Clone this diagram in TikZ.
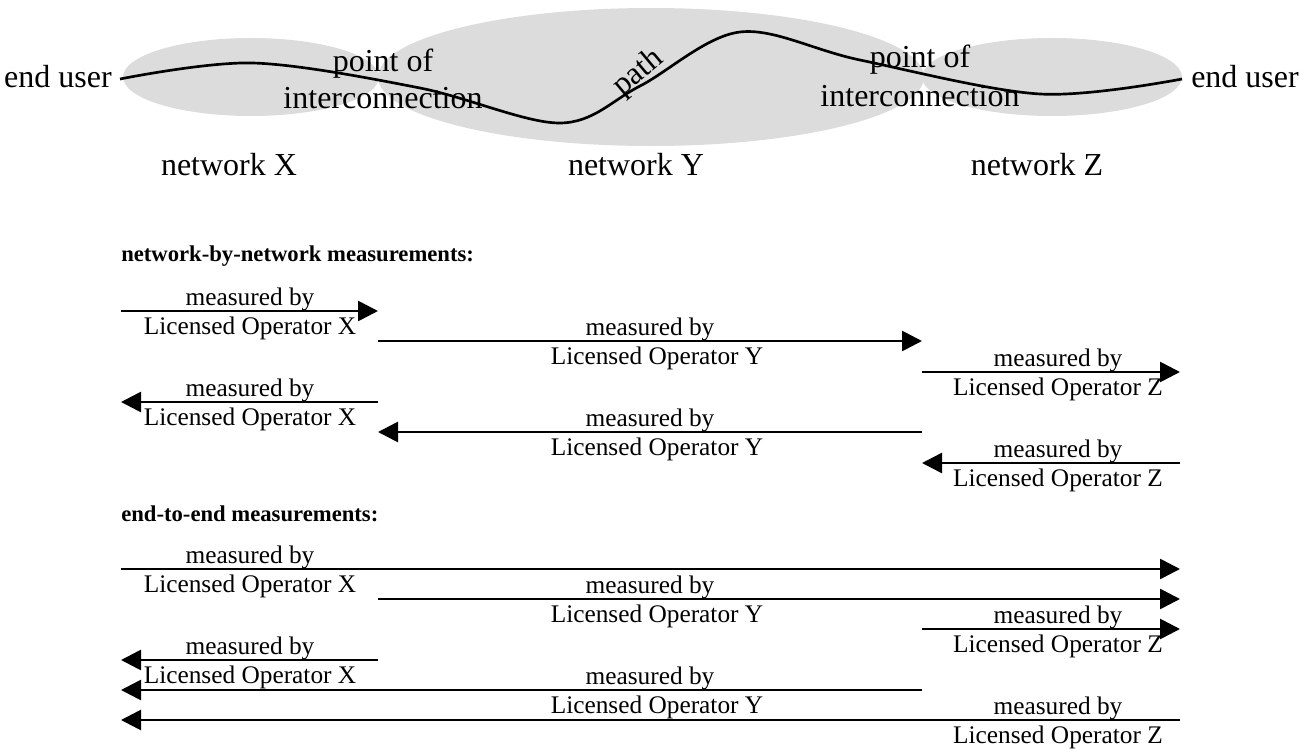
\documentclass[tikz,border=0pt]{standalone}
\usepackage{fontspec}
\setmainfont{Liberation Serif}
\usetikzlibrary{arrows.meta}
\definecolor{netgray}{RGB}{220,220,220}
\begin{document}
\begin{tikzpicture}[x=0.75pt,y=-0.75pt,
  net/.style={fill=netgray, draw=none},
  big/.style={font=\fontsize{24}{28}\selectfont, inner sep=0pt},
  lbl/.style={font=\fontsize{19}{22}\selectfont, inner sep=0pt},
  head/.style={font=\fontsize{17}{20}\selectfont\bfseries, inner sep=0pt, anchor=west},
  meas/.style={line width=2pt, -{Triangle[length=15pt,width=15pt]}},
]
\useasboundingbox (0,0) rectangle (1303,749);
% networks
\fill[net] (251,77) ellipse [x radius=128, y radius=39];
\fill[net] (651,77) ellipse [x radius=273, y radius=69];
\fill[net] (1052,77) ellipse [x radius=130, y radius=39];
% path
\draw[line width=2pt] plot[smooth, tension=0.55] coordinates {(120,79) (253,63) (420,88) (560,123) (640,86) (740,32) (860,60) (1040,94) (1182,79)};
\node[big, anchor=east] (eu1) at (112,77) {end user};
\node[big, anchor=west] (eu2) at (1191,77) {end user};
\node[big] (poi1a) at (383,64) {point of};
\node[big] (poi1b) at (383,98) {interconnection};
\node[big] (poi2a) at (920,60) {point of};
\node[big] (poi2b) at (920,96) {interconnection};
\node[big, rotate=40, anchor=base west] (pathlbl) at (622,97) {path};
\node[big] (nx) at (229,165) {network X};
\node[big] (ny) at (636,165) {network Y};
\node[big] (nz) at (1037,165) {network Z};
% headings
\node[head] (h1) at (121,256) {network-by-network measurements:};
\node[head] (h2) at (121,514) {end-to-end measurements:};
% measurement arrows
\foreach \nm/\xa/\xb/\y in {n1/121/378/311, n2/378/922/341, n3/922/1180/372, n4/378/121/402, n5/922/378/432, n6/1180/922/463,
  e1/121/1180/569, e2/378/1180/599, e3/922/1180/629, e4/378/121/660, e5/922/121/690, e6/1180/121/720}{
  \coordinate (\nm s) at (\xa,\y);
  \coordinate (\nm t) at (\xb,\y);
  \draw[meas] (\nm s) -- (\nm t);
}
% labels
\foreach \nm/\x/\y in {n1/250/311, n2/650/341, n3/1058/372, n4/250/402, n5/650/432, n6/1058/463,
  e1/250/569, e2/650/599, e3/1058/629, e4/250/660, e5/650/690, e6/1058/720}{
  \node[lbl, anchor=base] (\nm m) at (\x,\y-6) {measured by};
}
\node[lbl, anchor=base] (n1l) at (250,334) {Licensed Operator X};
\node[lbl, anchor=base] (n2l) at (657,364) {Licensed Operator Y};
\node[lbl, anchor=base] (n3l) at (1058,395) {Licensed Operator Z};
\node[lbl, anchor=base] (n4l) at (250,425) {Licensed Operator X};
\node[lbl, anchor=base] (n5l) at (657,455) {Licensed Operator Y};
\node[lbl, anchor=base] (n6l) at (1058,486) {Licensed Operator Z};
\node[lbl, anchor=base] (e1l) at (250,592) {Licensed Operator X};
\node[lbl, anchor=base] (e2l) at (657,622) {Licensed Operator Y};
\node[lbl, anchor=base] (e3l) at (1058,652) {Licensed Operator Z};
\node[lbl, anchor=base] (e4l) at (250,683) {Licensed Operator X};
\node[lbl, anchor=base] (e5l) at (657,713) {Licensed Operator Y};
\node[lbl, anchor=base] (e6l) at (1058,743) {Licensed Operator Z};
\end{tikzpicture}
\end{document}
